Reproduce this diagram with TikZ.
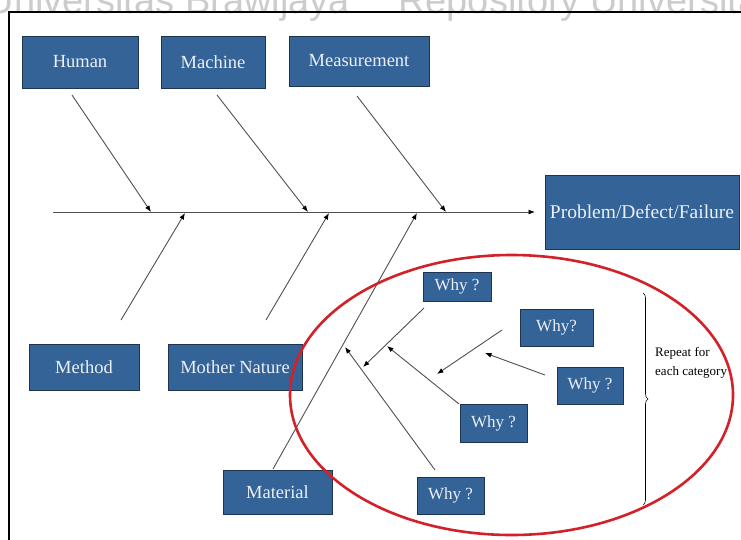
\documentclass[tikz,border=0pt]{standalone}
\usepackage{fontspec}
\setmainfont{Liberation Serif}
\newfontfamily\wmfont{Liberation Sans}
\usetikzlibrary{arrows.meta,decorations.pathreplacing}

\definecolor{boxfill}{RGB}{52,99,152}
\definecolor{boxline}{RGB}{30,52,80}
\definecolor{boxtext}{RGB}{236,240,246}
\definecolor{ringred}{RGB}{212,32,40}
\definecolor{bonegray}{RGB}{80,80,80}

\tikzset{
  catbox/.style={draw=boxline, line width=0.8pt, fill=boxfill, text=boxtext,
    inner sep=0pt, font=\fontsize{18.5}{22}\selectfont},
  whybox/.style={catbox, font=\fontsize{17}{20}\selectfont},
  bone/.style={draw=bonegray, line width=0.9pt,
    -{Latex[length=6.5pt,width=5pt,color=black]}},
  ring/.style={draw=ringred, line width=2.6pt},
  watermark/.style={text=black!20, font=\wmfont\fontsize{38}{40}\selectfont, inner sep=0pt}
}

\begin{document}
\begin{tikzpicture}[x=1pt, y=-1pt]
  \clip (0,0) rectangle (741,539);
  \fill[white] (0,0) rectangle (741,539);

  % faint repository watermark along the top edge
  \node[watermark, anchor=base east] (wmA) at (350,13) {Universitas Brawijaya};
  \node[watermark, anchor=base west] (wmB) at (398,13) {Repository Universitas};

  % outer frame
  \draw[line width=2.6pt] (9,560) -- (9,12) -- (760,12);

  % category boxes
  \node[catbox, minimum width=116pt, minimum height=52pt] (human)   at (80,62)    {Human};
  \node[catbox, minimum width=104pt, minimum height=52pt] (machine) at (213,62)   {Machine};
  \node[catbox, minimum width=140pt, minimum height=50pt] (measure) at (359,61)   {Measurement};
  \node[catbox, minimum width=110pt, minimum height=46pt] (method)  at (84,367)   {Method};
  \node[catbox, minimum width=134pt, minimum height=46pt] (mother)  at (235,367)  {Mother Nature};
  \node[catbox, minimum width=109pt, minimum height=44pt] (material) at (277.5,492) {Material};
  \node[catbox, minimum width=194pt, minimum height=74pt,
        font=\fontsize{19.5}{23}\selectfont] (problem) at (642,212) {Problem/Defect/Failure};

  % spine
  \coordinate (spineL) at (53,212);
  \coordinate (spineR) at (535,212);
  \draw[bone] (spineL) -- (spineR);

  % bones: free ends near each box, heads on the spine
  \coordinate (humanS)   at (72,95);   \coordinate (humanE)   at (151,212);
  \coordinate (machineS) at (217,95);  \coordinate (machineE) at (308,212);
  \coordinate (measureS) at (357,96);  \coordinate (measureE) at (446,212);
  \coordinate (methodS)  at (121,320); \coordinate (methodE)  at (185,213);
  \coordinate (motherS)  at (266,320); \coordinate (motherE)  at (329,213);
  \coordinate (materialS) at (273,469); \coordinate (materialE) at (417,213);
  \draw[bone] (humanS) -- (humanE);
  \draw[bone] (machineS) -- (machineE);
  \draw[bone] (measureS) -- (measureE);
  \draw[bone] (methodS) -- (methodE);
  \draw[bone] (motherS) -- (motherE);
  \draw[bone] (materialS) -- (materialE);

  % why boxes
  \node[whybox, minimum width=68pt, minimum height=29pt] (why1) at (457,286.5)   {Why ?};
  \node[whybox, minimum width=73pt, minimum height=37pt] (why2) at (556.5,327.5) {Why?};
  \node[whybox, minimum width=66pt, minimum height=37pt] (why3) at (590,385.5)   {Why ?};
  \node[whybox, minimum width=67pt, minimum height=38pt] (why4) at (493.5,423)   {Why ?};
  \node[whybox, minimum width=67pt, minimum height=37pt] (why5) at (450.5,495.5) {Why ?};

  % sub-cause arrows
  \coordinate (w1S) at (424,308); \coordinate (w1E) at (363,367);
  \coordinate (w2S) at (502,330); \coordinate (w2E) at (437,374);
  \coordinate (w3S) at (545,375); \coordinate (w3E) at (485,353);
  \coordinate (w4S) at (459,404); \coordinate (w4E) at (387,346);
  \coordinate (w5S) at (435,470); \coordinate (w5E) at (345,347);
  \draw[bone] (w1S) -- (w1E);
  \draw[bone] (w2S) -- (w2E);
  \draw[bone] (w3S) -- (w3E);
  \draw[bone] (w4S) -- (w4E);
  \draw[bone] (w5S) -- (w5E);

  % highlight ring
  \draw[ring] (511.5,395) ellipse [x radius=221.5pt, y radius=140pt];

  % brace and note
  \coordinate (braceTop) at (643,293);
  \coordinate (braceBot) at (643,505);
  \draw[line width=0.6pt, decorate, decoration={brace, amplitude=5pt}] (braceTop) -- (braceBot);
  \node[anchor=base west, align=left, inner sep=0pt,
        font=\fontsize{13}{19}\selectfont] (note) at (655,375) {Repeat for\\each category};
\end{tikzpicture}
\end{document}
